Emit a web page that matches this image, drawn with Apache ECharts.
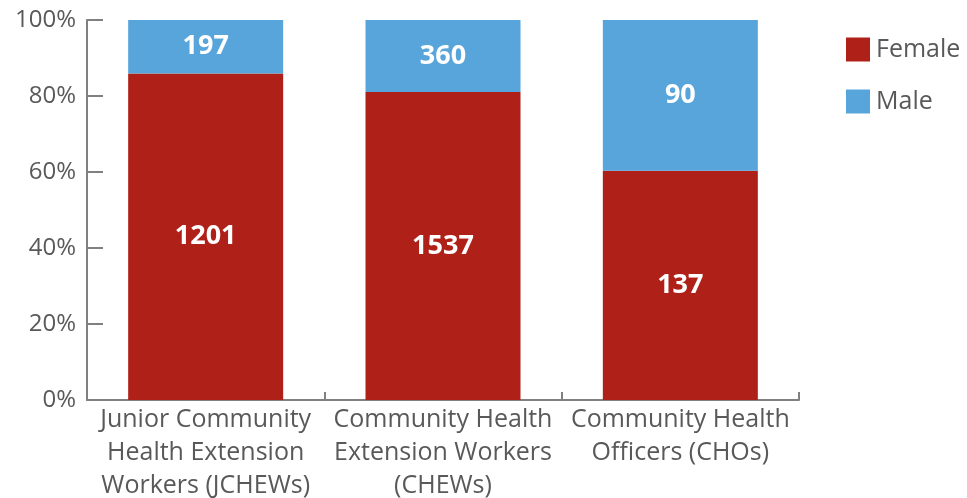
<!DOCTYPE html>
<html><head><meta charset="utf-8">
<script src="https://cdn.jsdelivr.net/npm/echarts@6/dist/echarts.min.js"></script>
<style>html,body{margin:0;padding:0;background:#fff}#c{width:967px;height:498px}</style>
</head><body><div id="c"></div>
<script>
const categories = ["Junior Community\nHealth Extension\nWorkers (JCHEWs)", "Community Health\nExtension Workers\n(CHEWs)", "Community Health\nOfficers (CHOs)"];
const female = [1201, 1537, 137];
const male = [197, 360, 90];
const yTicks = [0, 0.2, 0.4, 0.6, 0.8, 1];

const totals = female.map((f, i) => f + male[i]);
const femaleShare = female.map((f, i) => ({ value: f / totals[i], count: f }));
const maleShare = male.map((m, i) => ({ value: m / totals[i], count: m }));

const font = "'Open Sans', 'Noto Sans', sans-serif";
const gray = '#595959';
const axisGray = '#808080';

const chart = echarts.init(document.getElementById('c'), null, { renderer: 'canvas' });
chart.setOption({
  animation: false,
  textStyle: { fontFamily: font },
  grid: { left: 87, right: 168, top: 20, bottom: 98, containLabel: false, outerBoundsMode: 'none' },
  legend: {
    orient: 'vertical', left: 846, top: 37, padding: 0,
    itemWidth: 24, itemHeight: 24, itemGap: 27,
    icon: 'rect',
    textStyle: { fontSize: 25, color: gray, fontFamily: font, padding: [0, 0, 0, 1] },
    data: ['Female', 'Male']
  },
  xAxis: {
    type: 'category', data: categories,
    axisLine: { lineStyle: { color: axisGray, width: 2 } },
    axisTick: { show: true, inside: true, length: 8, alignWithLabel: false, lineStyle: { color: axisGray, width: 2 } },
    axisLabel: { color: gray, fontSize: 25, lineHeight: 33, margin: 3, fontFamily: font, interval: 0 }
  },
  yAxis: {
    type: 'value', min: 0, max: 1, interval: 0.2,
    axisLine: { show: true, lineStyle: { color: axisGray, width: 2 } },
    axisTick: { show: true, inside: true, length: 16, lineStyle: { color: axisGray, width: 2 } },
    splitLine: { show: false },
    axisLabel: {
      color: gray, fontSize: 24, margin: 11, fontFamily: font,
      formatter: v => Math.round(v * 100) + '%'
    }
  },
  series: [
    {
      name: 'Female', type: 'bar', stack: 's', barWidth: 155,
      itemStyle: { color: '#AF2118' },
      label: { show: true, position: 'inside', color: '#fff', fontWeight: 'bold', fontSize: 27, fontFamily: font, formatter: p => p.data.count },
      data: femaleShare
    },
    {
      name: 'Male', type: 'bar', stack: 's', barWidth: 155,
      itemStyle: { color: '#58A5DC' },
      label: { show: true, position: 'inside', color: '#fff', fontWeight: 'bold', fontSize: 27, fontFamily: font, formatter: p => p.data.count },
      data: maleShare
    }
  ]
});
</script></body></html>
